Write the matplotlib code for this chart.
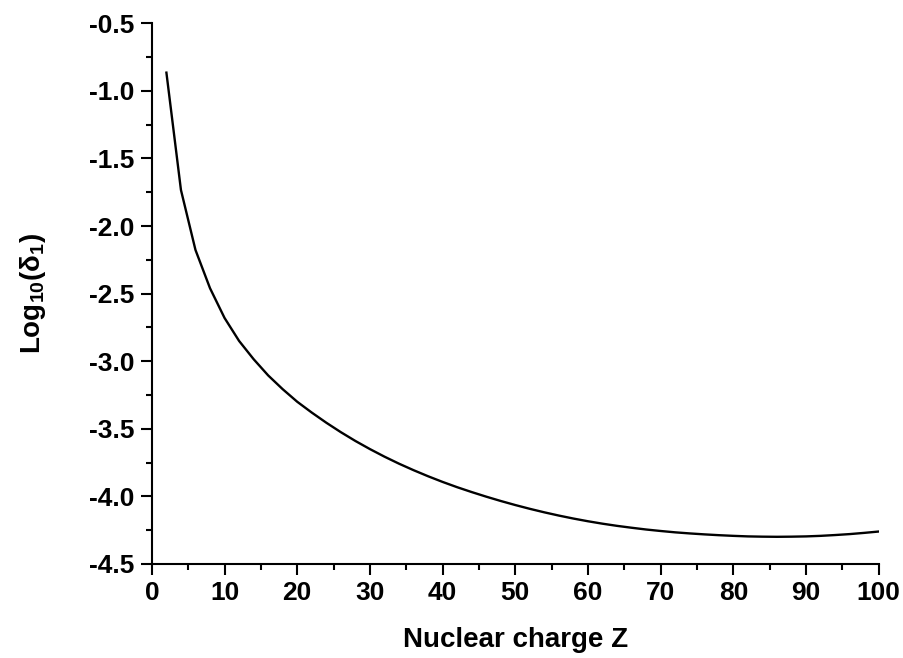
import matplotlib
matplotlib.use("Agg")
import matplotlib.pyplot as plt
from matplotlib.ticker import MultipleLocator, FormatStrFormatter

Z = [2, 4, 6, 8, 10, 12, 14, 16, 18, 20, 22, 24, 26, 28, 30, 32, 34, 36, 38, 40,
     42, 44, 46, 48, 50, 52, 54, 56, 58, 60, 62, 64, 66, 68, 70, 72, 74, 76, 78, 80,
     82, 84, 86, 88, 90, 92, 94, 96, 98, 100]
log_delta = [-0.865, -1.733, -2.177, -2.46, -2.68, -2.85, -2.985, -3.105, -3.207, -3.30,
             -3.38, -3.455, -3.525, -3.59, -3.65, -3.706, -3.758, -3.806, -3.851, -3.893,
             -3.932, -3.968, -4.002, -4.034, -4.064, -4.092, -4.118, -4.142, -4.164, -4.184,
             -4.202, -4.218, -4.232, -4.245, -4.256, -4.266, -4.274, -4.281, -4.287, -4.292,
             -4.296, -4.298, -4.299, -4.298, -4.296, -4.292, -4.286, -4.279, -4.270, -4.260]

plt.rcParams['font.family'] = ['Liberation Sans', 'DejaVu Sans']
plt.rcParams['font.weight'] = 'bold'
plt.rcParams['mathtext.fontset'] = 'custom'
plt.rcParams['mathtext.rm'] = 'Liberation Sans:bold'
plt.rcParams['mathtext.bf'] = 'Liberation Sans:bold'
plt.rcParams['mathtext.it'] = 'Liberation Sans:bold'

fig = plt.figure(figsize=(9.04, 6.58), dpi=100)
ax = fig.add_axes([0.168, 0.1429, 0.804, 0.8217])
ax.plot(Z, log_delta, color='black', lw=1.7)

ax.set_xlim(0, 100)
ax.set_ylim(-4.5, -0.5)
ax.xaxis.set_major_locator(MultipleLocator(10))
ax.xaxis.set_minor_locator(MultipleLocator(5))
ax.yaxis.set_major_locator(MultipleLocator(0.5))
ax.yaxis.set_minor_locator(MultipleLocator(0.25))
ax.yaxis.set_major_formatter(FormatStrFormatter('%.1f'))

for s in ['top', 'right']:
    ax.spines[s].set_visible(False)
for s in ['left', 'bottom']:
    ax.spines[s].set_linewidth(1.5)

ax.tick_params(which='major', direction='out', length=7.7, width=1.5, labelsize=19)
ax.tick_params(axis='x', which='major', pad=4.5)
ax.tick_params(axis='y', which='major', pad=5)
ax.tick_params(which='minor', direction='out', length=4, width=1.5)
for lab in ax.get_xticklabels() + ax.get_yticklabels():
    lab.set_fontweight('bold')

ax.set_xlabel('Nuclear charge Z', fontsize=20, fontweight='bold')
ax.set_ylabel(r'Log$_{10}$($\delta_1$)', fontsize=20, fontweight='bold')
ax.xaxis.set_label_coords(0.5007, -0.1165)
ax.yaxis.set_label_coords(-0.143, 0.5)

fig.savefig('out.png', dpi=100)
